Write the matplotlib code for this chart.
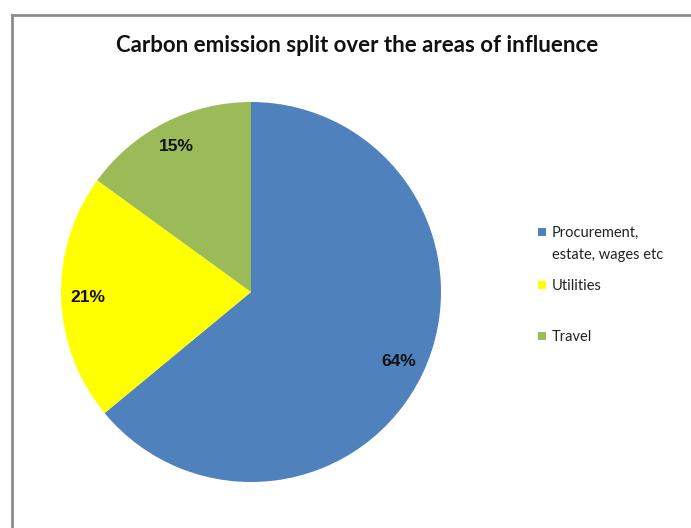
import matplotlib.pyplot as plt
from matplotlib.lines import Line2D
from matplotlib.patches import Rectangle

# Data
labels = ['Procurement,\nestate, wages etc', 'Utilities', 'Travel']
shares = [64, 21, 15]
colors = ['#4F81BD', '#FFFF00', '#9BBB59']

fig = plt.figure(figsize=(6.91, 5.28), dpi=100)
W, H = 691, 528

# chart frame (only top and left edges visible)
fig.add_artist(Line2D([12 / W, 1], [1 - 15 / H] * 2, color='#8c8c8c', lw=2))
fig.add_artist(Line2D([12 / W] * 2, [0, 1 - 15 / H], color='#8c8c8c', lw=2))

ax = fig.add_axes([61 / W, 46 / H, 380 / W, 380 / H])
wedges, texts, autotexts = ax.pie(
    shares, colors=colors, startangle=90, counterclock=False,
    autopct='%d%%', pctdistance=0.86,
    textprops=dict(fontsize=12.5, fontweight='bold', family='Liberation Sans',
                   color='#111111'))
ax.set_xlim(-1, 1)
ax.set_ylim(-1, 1)
ax.set_aspect('auto')

fig.text(357 / W, 1 - 45 / H, 'Carbon emission split over the areas of influence',
         ha='center', va='center', fontsize=16, fontweight='bold', family='Lato',
         color='#111111')

# legend, drawn by hand because the entry gaps are uneven
legend_y = [232, 285, 336]
for lab, c, y in zip(labels, colors, legend_y):
    fig.add_artist(Rectangle((538 / W, 1 - (y + 4) / H), 8 / W, 8 / H,
                             facecolor=c, edgecolor='none', transform=fig.transFigure))
    fig.text(552 / W, 1 - (y - 6) / H, lab, ha='left', va='top', family='Lato',
             fontsize=10.5, linespacing=1.75, color='#222222')

fig.savefig('out.png', dpi=100)
